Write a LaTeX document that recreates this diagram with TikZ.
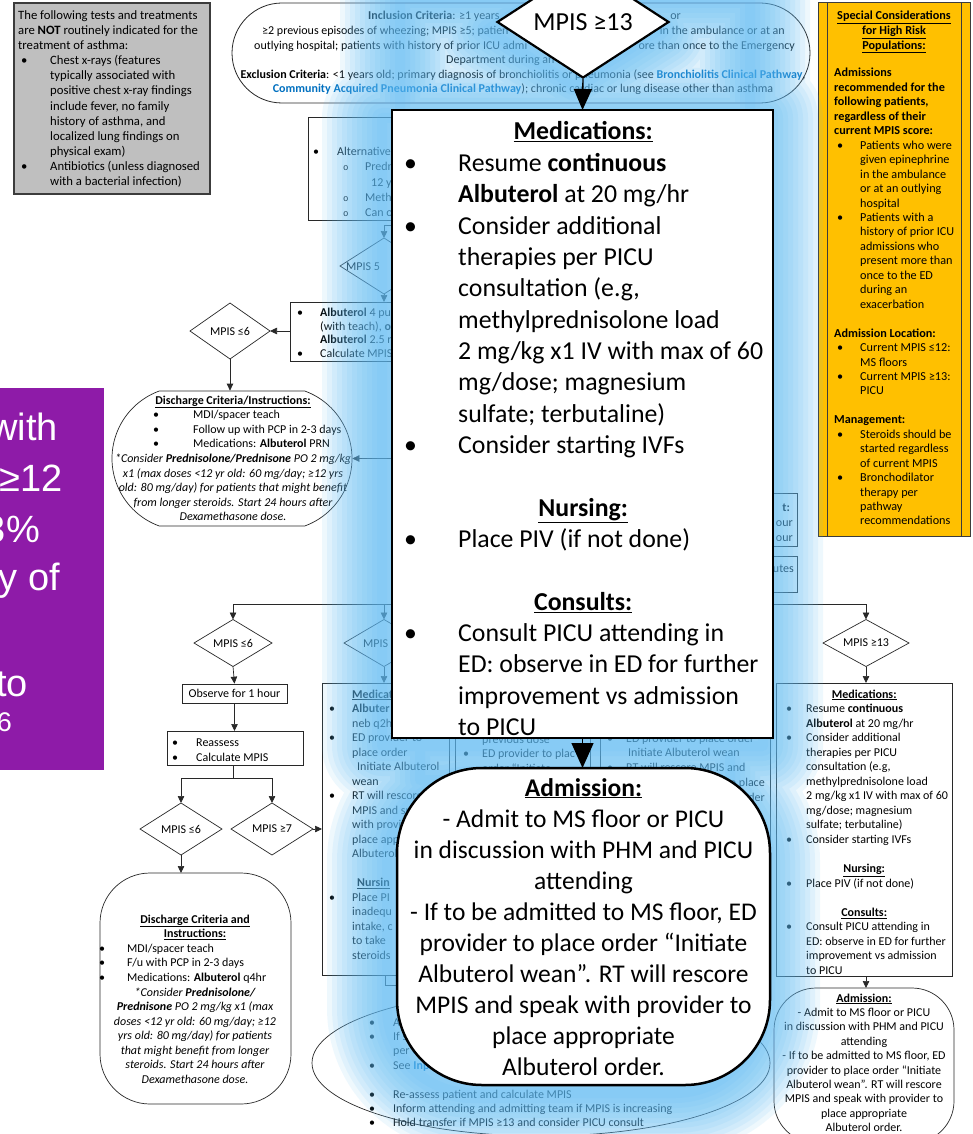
\documentclass[tikz,border=0pt]{standalone}
\usepackage{fontspec}
\setmainfont{Carlito}
\newfontfamily\arialfont{Liberation Sans}
\newfontfamily\subbulletfont{Liberation Mono}
\usetikzlibrary{arrows.meta,shapes.geometric,shapes.misc}

\definecolor{greyfill}{RGB}{191,191,191}
\definecolor{greyline}{RGB}{60,60,60}
\definecolor{linkblue}{RGB}{0,112,192}
\definecolor{goldfill}{RGB}{255,192,0}
\definecolor{purplefill}{RGB}{142,27,168}
\definecolor{glowblue}{RGB}{95,188,245}
\definecolor{inkline}{RGB}{40,40,40}

% font sizes (1pt = 1 unit of the drawing)
\newcommand\fsm{\fontsize{12}{14}\selectfont}
\newcommand\fgr{\fontsize{12.7}{15}\selectfont}
\newcommand\fgo{\fontsize{12.2}{14}\selectfont}
\newcommand\fbg{\fontsize{25.8}{30}\selectfont}
% bullets and hanging indents
\newcommand\bul[1]{\makebox[#1][l]{\hspace*{3pt}•}}
\newcommand\sbul[1]{\makebox[#1][l]{{\subbulletfont\fontsize{9}{9}\selectfont o}}}
\newcommand\ind[1]{\hspace*{#1}}
% a column of text lines: name prefix, anchor, x, first baseline, step, font, lines
\newcommand\Lines[7]{%
  \foreach \lntext [count=\k] in {#7}{%
    \node[name=#1\k, anchor=#2, font={#6}, inner sep=0pt] at ({#3},{#4+(\k-1)*(#5)}) {\lntext};}}

\begin{document}
\begin{tikzpicture}[x=1pt,y=-1pt,
  conn/.style={draw=inkline, line width=0.7pt},
  arr/.style={conn, -{Triangle[width=6.5pt,length=7pt]}},
  box/.style={draw=inkline, line width=0.7pt, inner sep=0pt, outer sep=0pt, anchor=north west},
  dia/.style={diamond, draw=inkline, line width=0.7pt, inner sep=0pt, outer sep=0pt, shape aspect=1.7, font=\fsm},
  bigarr/.style={draw=black, line width=1.4pt, -{Triangle[width=18pt,length=21pt]}},
  frag/.style={inner sep=0pt, font=\fsm},
]
\useasboundingbox (0,0) rectangle (972,1134);
\fill[white] (0,0) rectangle (972,1134);

% ---------- tests not indicated ----------
\node[box, draw=greyline, line width=1.2pt, fill=greyfill, minimum width=196pt, minimum height=191pt] (notes) at (14,3) {};
\Lines{gl}{base west}{18}{19.5}{15.1}{\fgr}{%
{The following tests and treatments},
{are \textbf{NOT} routinely indicated for the},
{treatment of asthma:},
{\bul{32pt}Chest x-rays (features},
{\ind{32pt}typically associated with},
{\ind{32pt}positive chest x-ray findings},
{\ind{32pt}include fever, no family},
{\ind{32pt}history of asthma, and},
{\ind{32pt}localized lung findings on},
{\ind{32pt}physical exam)},
{\bul{32pt}Antibiotics (unless diagnosed},
{\ind{32pt}with a bacterial infection)}}

% ---------- inclusion / exclusion ----------
\node[rounded rectangle, draw=inkline, line width=0.8pt, minimum width=578pt, minimum height=100pt, inner sep=0pt] (incl) at (521,53) {};
\node[frag, anchor=base west] (inc1a) at (368,20) {\textbf{Inclusion Criteria}: ≥1 years};
\node[frag, anchor=base east] (inc1b) at (681,20) {or};
\node[frag, anchor=base west] (inc2a) at (262,35) {≥2 previous episodes of wheezing; MPIS ≥5; patien};
\node[frag, anchor=base east] (inc2b) at (785,35) {in the ambulance or at an};
\node[frag, anchor=base west] (inc3a) at (254,50) {outlying hospital; patients with history of prior ICU admi};
\node[frag, anchor=base east] (inc3b) at (795,50) {ore than once to the Emergency};
\node[frag, anchor=base west] (inc4) at (446,64) {Department during an e};
\node[frag, anchor=base] (inc5) at (523,79) {\textbf{Exclusion Criteria}: <1 years old; primary diagnosis of bronchiolitis or pneumonia (see \textcolor{linkblue}{\textbf{Bronchiolitis Clinical Pathway}},};
\node[frag, anchor=base] (inc6) at (523,93) {\textcolor{linkblue}{\textbf{Community Acquired Pneumonia Clinical Pathway}}); chronic cardiac or lung disease other than asthma};

% ---------- high risk populations ----------
\node[box, draw=greyline, line width=1pt, fill=goldfill, minimum width=152pt, minimum height=533pt] (special) at (818,3) {};
\draw[greyline, line width=0.8pt] ([xshift=9pt]special.north west) -- ([xshift=9pt]special.south west);
\draw[greyline, line width=0.8pt] ([xshift=-9pt]special.north east) -- ([xshift=-9pt]special.south east);
\Lines{sh}{base}{894}{20}{14.6}{\fgo}{%
{\textbf{\underline{Special Considerations}}},
{\textbf{\underline{for High Risk}}},
{\textbf{\underline{Populations:}}}}
\Lines{sp}{base west}{834}{77}{14.45}{\fgo}{%
{\textbf{Admissions}},
{\textbf{recommended for the}},
{\textbf{following patients,}},
{\textbf{regardless of their}},
{\textbf{current MPIS score:}},
{\bul{26pt}Patients who were},
{\ind{26pt}given epinephrine},
{\ind{26pt}in the ambulance},
{\ind{26pt}or at an outlying},
{\ind{26pt}hospital},
{\bul{26pt}Patients with a},
{\ind{26pt}history of prior ICU},
{\ind{26pt}admissions who},
{\ind{26pt}present more than},
{\ind{26pt}once to the ED},
{\ind{26pt}during an},
{\ind{26pt}exacerbation},
{},
{\textbf{Admission Location:}},
{\bul{26pt}Current MPIS ≤12:},
{\ind{26pt}MS floors},
{\bul{26pt}Current MPIS ≥13:},
{\ind{26pt}PICU},
{},
{\textbf{Management:}},
{\bul{26pt}Steroids should be},
{\ind{26pt}started regardless},
{\ind{26pt}of current MPIS},
{\bul{26pt}Bronchodilator},
{\ind{26pt}therapy per},
{\ind{26pt}pathway},
{\ind{26pt}recommendations}}

% ---------- slide panel ----------
\node[box, draw=none, fill=purplefill, minimum width=104pt, minimum height=382pt] (slide) at (0,388) {};
\begin{scope}
\clip (slide.north west) rectangle (slide.south east);
\begin{scope}[every node/.style={anchor=base east, inner sep=0pt, text=white, font=\arialfont\fontsize{38}{40}\selectfont}]
\node (sl1) at (58,440) {with};
\node (sl2) at (63,491) {≥12};
\node (sl3) at (40,542) {3\%};
\node (sl4) at (60,590) {y of};
\node (sl5) at (28,696) {to};
\node[font=\arialfont\fontsize{27}{30}\selectfont] (sl6) at (12,731) {6};
\end{scope}
\end{scope}

% ---------- upper left branch ----------
\node[box, minimum width=122pt, minimum height=103pt] (altbox) at (308,117) {};
\Lines{al}{base west}{310}{156}{15}{\fsm}{%
{\bul{27pt}Alternative},
{\ind{33pt}\sbul{22pt}Predn},
{\ind{61pt}12 y},
{\ind{33pt}\sbul{22pt}Meth},
{\ind{33pt}\sbul{22pt}Can o}}
\node[dia, minimum width=88pt, minimum height=56pt] (d5) at (384,266) {};
\node[frag, anchor=base west] (d5txt) at (346,270) {MPIS 5};
\coordinate (altout) at (405,225);
\draw[arr] (altout) -- (d5.north |- altout) -- (d5.north);

\node[box, minimum width=140pt, minimum height=59pt] (albbox) at (290,302) {};
\Lines{ab}{base west}{294}{316.5}{13.7}{\fsm}{%
{\bul{26pt}\textbf{Albuterol} 4 pu},
{\ind{26pt}(with teach), \textbf{o}},
{\ind{26pt}\textbf{Albuterol} 2.5 r},
{\bul{26pt}Calculate MPIS}}
\draw[arr] (d5.south) -- (d5.south |- albbox.north);

\node[dia, minimum width=80pt, minimum height=56pt] (d6a) at (230,331) {MPIS ≤6};
\draw[arr] (albbox.west |- d6a.east) -- (d6a.east);

\node[rounded rectangle, rounded rectangle arc length=140, draw=inkline, line width=0.7pt, minimum width=240pt, minimum height=135pt, inner sep=0pt] (dis1) at (232,458.5) {};
\draw[arr] (d6a.south) -- (d6a.south |- dis1.north);
\node[frag, anchor=base] (dis1h) at (233,404) {\textbf{\underline{Discharge Criteria/Instructions:}}};
\Lines{db}{base west}{150}{418.6}{14.6}{\fsm}{%
{\bul{43pt}MDI/spacer teach},
{\bul{43pt}Follow up with PCP in 2-3 days},
{\bul{43pt}Medications: \textbf{Albuterol} PRN}}
\Lines{di}{base}{233}{462.4}{14.6}{\fsm\itshape}{%
{*Consider \textbf{Prednisolone/Prednisone} PO 2 mg/kg},
{x1 (max doses <12 yr old: 60 mg/day; ≥12 yrs},
{old: 80 mg/day) for patients that might benefit},
{from longer steroids. Start 24 hours after},
{Dexamethasone dose.}}
\coordinate (medret) at (405,458.5);
\draw[arr] (medret) -- (dis1.east);

% ---------- right edge of the central boxes ----------
\node[box, minimum width=120pt, minimum height=53pt] (obsA) at (677,493) {};
\node[box, minimum width=120pt, minimum height=36pt] (obsB) at (677,556) {};
\node[frag, anchor=base east] (oa1) at (790,511) {\textbf{t:}};
\node[frag, anchor=base east] (oa2) at (793,526) {our};
\node[frag, anchor=base east] (oa3) at (793,541) {our};
\node[frag, anchor=base east] (ob1) at (794,572) {utes};

% ---------- reassessment row ----------
\coordinate (busL) at (233,604);
\coordinate (busR) at (866,604);
\draw[conn] (busL) -- (busR);

\node[dia, minimum width=78pt, minimum height=47pt] (d6b) at (233,643) {MPIS ≤6};
\node[dia, minimum width=80pt, minimum height=47pt] (dmid) at (384,643) {};
\node[frag, anchor=base west] (dmidtxt) at (363,647) {MPIS};
\node[dia, minimum width=86pt, minimum height=47pt] (d13) at (866,643) {MPIS ≥13};
\draw[arr] (busL) -- (d6b.north);
\draw[arr] (dmid.north |- busL) -- (dmid.north);
\draw[arr] (busR) -- (d13.north);

\node[draw=inkline, line width=0.7pt, inner sep=0pt, minimum width=105pt, minimum height=19pt, font=\fsm] (obs) at (234.5,693.5) {Observe for 1 hour};
\draw[arr] (d6b.south) -- (obs.north);
\node[box, minimum width=136pt, minimum height=34pt] (reas) at (167,731) {};
\Lines{rs}{base west}{169}{746}{15}{\fsm}{%
{\bul{27pt}Reassess},
{\bul{27pt}Calculate MPIS}}
\draw[arr] (obs.south) -- (obs.south |- reas.north);

\node[dia, minimum width=82pt, minimum height=52pt] (d6c) at (181,829) {MPIS ≤6};
\node[dia, minimum width=82pt, minimum height=52pt] (d7b) at (272,829) {MPIS ≥7};
\coordinate (split) at (233,778);
\draw[conn] (reas.south -| split) -- (split);
\draw[arr] (split) -| (d6c.north);
\draw[arr] (split) -| (d7b.north);

% second discharge
\node[box, rounded corners=50pt, minimum width=191pt, minimum height=231pt] (dis2) at (100,873) {};
\draw[arr] (d6c.south) -- (d6c.south |- dis2.north);
\Lines{eh}{base}{195}{923}{14.6}{\fsm}{%
{\textbf{\underline{Discharge Criteria and}}},
{\textbf{\underline{Instructions:}}}}
\Lines{eb}{base west}{96}{952}{14.5}{\fsm}{%
{\bul{31pt}MDI/spacer teach},
{\bul{31pt}F/u with PCP in 2-3 days},
{\bul{31pt}Medications: \textbf{Albuterol} q4hr}}
\Lines{ei}{base}{195}{996}{14.5}{\fsm\itshape}{%
{*Consider \textbf{Prednisolone/}},
{\textbf{Prednisone} PO 2 mg/kg x1 (max},
{doses <12 yr old: 60 mg/day; ≥12},
{yrs old: 80 mg/day) for patients},
{that might benefit from longer},
{steroids. Start 24 hours after},
{Dexamethasone dose.}}

% second column medications
\node[box, minimum width=127pt, minimum height=292pt] (med2) at (322,683) {};
\draw[arr] (d7b.east) -- (med2.west |- d7b.east);
\draw[arr] (dmid.south) -- (dmid.south |- med2.north);
\Lines{mt}{base west}{326}{698}{14.5}{\fsm}{%
{\ind{26pt}\textbf{\underline{Medicat}}},
{\bul{26pt}\textbf{Albuter}},
{\ind{26pt}neb q2h},
{\bul{26pt}ED provider to},
{\ind{26pt}place order},
{\ind{31pt}Initiate Albuterol},
{\ind{26pt}wean},
{\bul{26pt}RT will rescore},
{\ind{26pt}MPIS and spe},
{\ind{26pt}with provide},
{\ind{26pt}place appropr},
{\ind{26pt}Albuterol},
{},
{\ind{31pt}\textbf{\underline{Nursin}}},
{\bul{26pt}Place PI},
{\ind{26pt}inadequ},
{\ind{26pt}intake, c},
{\ind{26pt}to take},
{\ind{26pt}steroids}}
\coordinate (m2join) at (405,985);
\draw[conn] (med2.south) |- (m2join);

% third and fourth column boxes (mostly covered)
\node[box, minimum width=135pt, minimum height=292pt] (med3) at (455,683) {};
\Lines{tc}{base west}{460}{743}{14.5}{\fsm}{%
{\ind{22pt}previous dose},
{\bul{22pt}ED provider to plac},
{\ind{22pt}order “Initiate}}
\node[box, minimum width=170pt, minimum height=292pt] (med4) at (600,683) {};
\Lines{fc}{base west}{604}{742}{14.8}{\fsm}{%
{\bul{22pt}ED provider to place order},
{\ind{24pt}Initiate Albuterol wean},
{\bul{22pt}RT will rescore MPIS and}}
\node[frag, anchor=base east] (fc4) at (765,786) {to place};
\node[frag, anchor=base east] (fc5) at (765,801) {order};

% right column medications
\node[box, minimum width=176pt, minimum height=293pt] (med5) at (776,683) {};
\draw[arr] (d13.south) -- (med5.north -| d13.south);
\Lines{rc}{base west}{783}{698}{14.55}{\fsm}{%
{\makebox[162pt]{\textbf{\underline{Medications:}}}},
{\bul{23pt}Resume \textbf{continuous}},
{\ind{23pt}\textbf{Albuterol} at 20 mg/hr},
{\bul{23pt}Consider additional},
{\ind{23pt}therapies per PICU},
{\ind{23pt}consultation (e.g,},
{\ind{23pt}methylprednisolone load},
{\ind{23pt}2 mg/kg x1 IV with max of 60},
{\ind{23pt}mg/dose; magnesium},
{\ind{23pt}sulfate; terbutaline)},
{\bul{23pt}Consider starting IVFs},
{},
{\makebox[162pt]{\textbf{\underline{Nursing:}}}},
{\bul{23pt}Place PIV (if not done)},
{},
{\makebox[162pt]{\textbf{\underline{Consults:}}}},
{\bul{23pt}Consult PICU attending in},
{\ind{23pt}ED: observe in ED for further},
{\ind{23pt}improvement vs admission},
{\ind{23pt}to PICU}}
\node[box, rounded corners=42pt, minimum width=180pt, minimum height=155pt] (adm5) at (774,988) {};
\draw[arr] (med5.south -| d13.south) -- (adm5.north -| d13.south);
\Lines{ad}{base}{864}{1002}{14.4}{\fsm}{%
{\textbf{\underline{Admission:}}},
{- Admit to MS floor or PICU},
{in discussion with PHM and PICU},
{attending},
{- If to be admitted to MS floor, ED},
{provider to place order “Initiate},
{Albuterol wean”. RT will rescore},
{MPIS and speak with provider to},
{place appropriate},
{Albuterol order.}}

% transfer ellipse
\node[ellipse, draw=inkline, line width=0.7pt, minimum width=458pt, minimum height=146pt, inner sep=0pt] (trans) at (541,1063) {};
\Lines{tr}{base west}{366}{1026}{14.4}{\fsm}{%
{\bul{27pt}Ad},
{\bul{27pt}If sy},
{\ind{27pt}per \textcolor{linkblue}{\textbf{Co}}},
{\bul{27pt}See \textcolor{linkblue}{\textbf{Inpa}}},
{},
{\bul{27pt}Re-assess patient and calculate MPIS},
{\bul{27pt}Inform attending and admitting team if MPIS is increasing},
{\bul{27pt}Hold transfer if MPIS ≥13 and consider PICU consult}}
\node[frag, anchor=base east] (tr9) at (756,1041) {s};

% ---------- glow behind the enlarged step ----------
\begin{scope}[shift={(-10,8)}]
\foreach \d in {120,110,...,10}{
  \draw[glowblue, line width=\d pt, line join=round, opacity=0.1]
    (392,110) rectangle (773,738)
    (410,-10) rectangle (760,110)
    (430,735) rectangle (740,772)
    (497,22) -- (583,-33) -- (669,22) -- (583,77) -- cycle
    [rounded corners=85pt] (397,768) rectangle (770,1085);
}
\end{scope}

% ---------- enlarged step: MPIS >= 13 ----------
\node[diamond, draw=black, fill=white, line width=2.2pt, minimum width=172pt, minimum height=112pt, shape aspect=1.55, inner sep=0pt, font=\fontsize{26}{30}\selectfont] (bigd) at (583,22) {MPIS ≥13};
\node[box, draw=black, fill=white, line width=2.5pt, minimum width=381pt, minimum height=628pt] (bigmed) at (392,110) {};
\draw[bigarr] (bigd.south) -- (bigmed.north);
\Lines{bm}{base west}{401}{140}{31.35}{\fbg}{%
{\makebox[364pt]{\textbf{\underline{Medications:}}}},
{\bul{57pt}Resume \textbf{continuous}},
{\ind{57pt}\textbf{Albuterol} at 20 mg/hr},
{\bul{57pt}Consider additional},
{\ind{57pt}therapies per PICU},
{\ind{57pt}consultation (e.g,},
{\ind{57pt}methylprednisolone load},
{\ind{57pt}2 mg/kg x1 IV with max of 60},
{\ind{57pt}mg/dose; magnesium},
{\ind{57pt}sulfate; terbutaline)},
{\bul{57pt}Consider starting IVFs},
{},
{\makebox[364pt]{\textbf{\underline{Nursing:}}}},
{\bul{57pt}Place PIV (if not done)},
{},
{\makebox[364pt]{\textbf{\underline{Consults:}}}},
{\bul{57pt}Consult PICU attending in},
{\ind{57pt}ED: observe in ED for further},
{\ind{57pt}improvement vs admission},
{\ind{57pt}to PICU}}

\node[box, draw=black, fill=white, line width=2.5pt, rounded corners=85pt, minimum width=373pt, minimum height=317pt] (bigadm) at (397,768) {};
\draw[bigarr, -{Triangle[width=22pt,length=25pt]}] (bigmed.south) -- (bigmed.south |- bigadm.north);
\Lines{ba}{base}{583.5}{796}{31.1}{\fontsize{25.5}{30}\selectfont}{%
{\textbf{\underline{Admission:}}},
{- Admit to MS floor or PICU},
{in discussion with PHM and PICU},
{attending},
{- If to be admitted to MS floor, ED},
{provider to place order “Initiate},
{Albuterol wean”. RT will rescore},
{MPIS and speak with provider to},
{place appropriate},
{Albuterol order.}}
\end{tikzpicture}
\end{document}
